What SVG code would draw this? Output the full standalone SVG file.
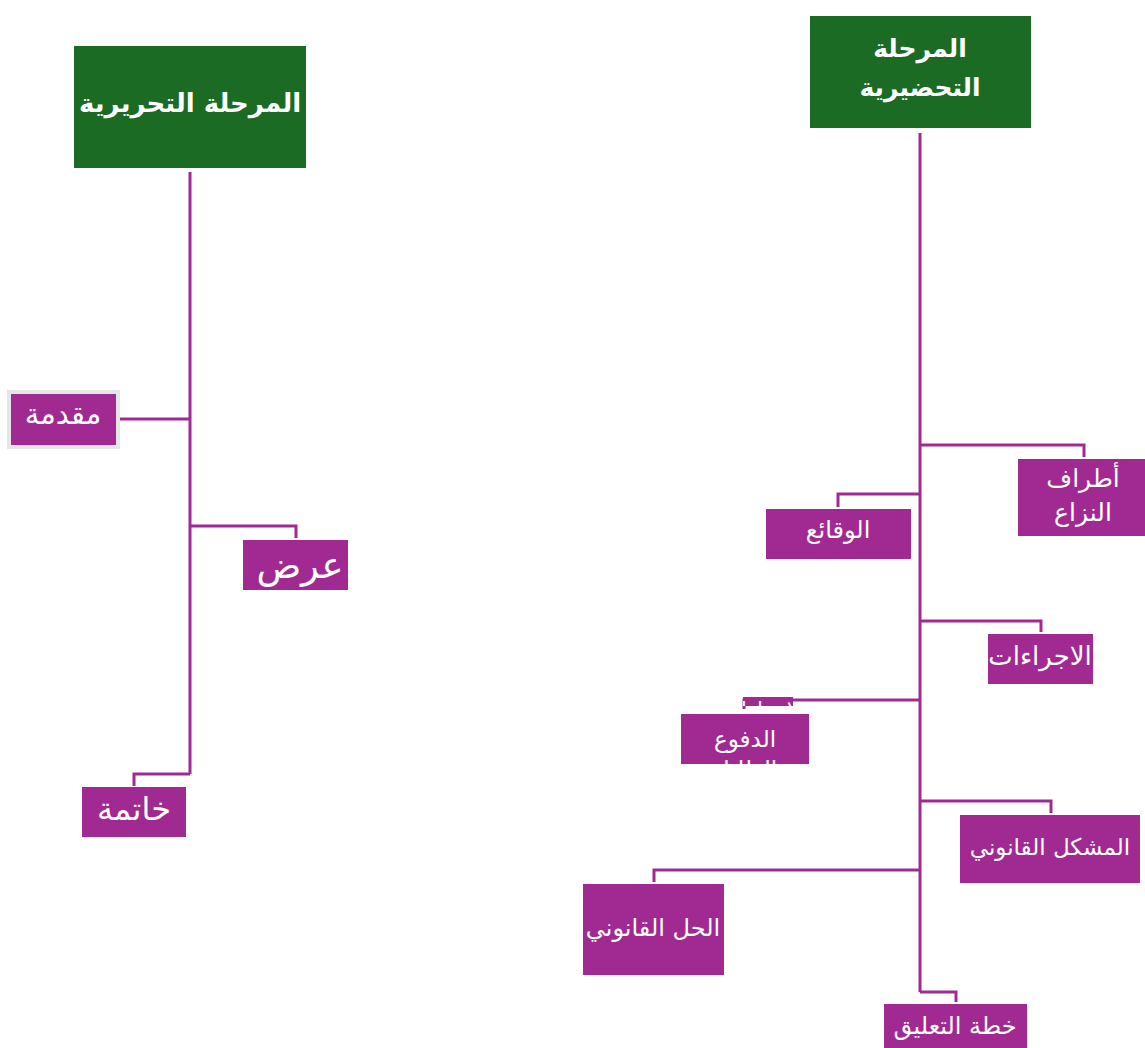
<svg xmlns="http://www.w3.org/2000/svg" width="1145" height="1048" viewBox="0 0 1145 1048">
<style>
.g{fill:#1b6b24}
.p{fill:#a02a91}
.ln{fill:none;stroke:#a02a91;stroke-width:3}
.th{fill:#fff;font-family:"DejaVu Sans","Liberation Sans",sans-serif;font-weight:bold;text-anchor:middle}
.t{fill:#fff;font-family:"DejaVu Sans","Liberation Sans",sans-serif;text-anchor:middle}
</style>
<defs>
<clipPath id="cd"><rect x="681" y="714" width="128" height="50"/></clipPath>
<clipPath id="cf"><rect x="743" y="697" width="50" height="9"/></clipPath>
</defs>
<rect width="1145" height="1048" fill="#fff"/>
<g id="connectors">
<path class="ln" d="M190 172V774"/>
<path class="ln" d="M120 419H190"/>
<path class="ln" d="M190 526H296V538"/>
<path class="ln" d="M190 774H134V786"/>
<path class="ln" d="M920 133V992"/>
<path class="ln" d="M920 445H1084V457"/>
<path class="ln" d="M920 494H838V507"/>
<path class="ln" d="M920 621H1041V632"/>
<path class="ln" d="M920 700H744V709"/>
<path class="ln" d="M920 801H1051V813"/>
<path class="ln" d="M920 870H654V882"/>
<path class="ln" d="M920 992H956V1002"/>
</g>
<g id="n-tahririya">
<rect class="g" x="74" y="46" width="232" height="122"/>
<text class="th" x="190" y="112" font-size="26">المرحلة التحريرية</text>
</g>
<g id="n-muqaddima">
<rect x="7" y="390" width="113" height="59" fill="#e6e6e6"/>
<rect class="p" x="11" y="394" width="105" height="51"/>
<text class="t" x="63" y="424" font-size="29">مقدمة</text>
</g>
<g id="n-ard">
<rect class="p" x="243" y="540" width="105" height="50"/>
<text class="t" x="300" y="578" font-size="37">عرض</text>
</g>
<g id="n-khatima">
<rect class="p" x="82" y="787" width="104" height="50"/>
<text class="t" x="134" y="820" font-size="32">خاتمة</text>
</g>
<g id="n-tahdiriya">
<rect class="g" x="810" y="16" width="221" height="112"/>
<text class="th" x="920" y="57" font-size="25">المرحلة</text>
<text class="th" x="920" y="96" font-size="25">التحضيرية</text>
</g>
<g id="n-atraf">
<rect class="p" x="1018" y="459" width="127" height="77"/>
<text class="t" x="1083" y="487" font-size="25">أطراف</text>
<text class="t" x="1083" y="521" font-size="25">النزاع</text>
</g>
<g id="n-waqai">
<rect class="p" x="766" y="509" width="145" height="50"/>
<text class="t" x="838" y="538" font-size="24">الوقائع</text>
</g>
<g id="n-ijraat">
<rect class="p" x="988" y="634" width="105" height="50"/>
<text class="t" x="1040" y="665" font-size="26">الاجراءات</text>
</g>
<g id="n-dufu">
<rect class="p" x="743" y="697" width="50" height="9"/>
<text class="t" x="768" y="718" font-size="22" clip-path="url(#cf)">والادعاءات</text>
<rect class="p" x="681" y="714" width="128" height="50"/>
<g clip-path="url(#cd)">
<text class="t" x="745" y="747" font-size="23">الدفوع</text>
<text class="t" x="745" y="777" font-size="23">والطلبات</text>
</g>
</g>
<g id="n-mushkil">
<rect class="p" x="960" y="815" width="180" height="68"/>
<text class="t" x="1050" y="855" font-size="23">المشكل القانوني</text>
</g>
<g id="n-hall">
<rect class="p" x="583" y="884" width="141" height="91"/>
<text class="t" x="653" y="936" font-size="24">الحل القانوني</text>
</g>
<g id="n-khitta">
<rect class="p" x="884" y="1004" width="143" height="44"/>
<text class="t" x="955" y="1034" font-size="24">خطة التعليق</text>
</g>
</svg>
